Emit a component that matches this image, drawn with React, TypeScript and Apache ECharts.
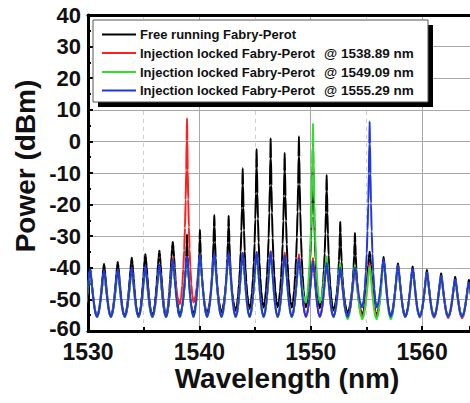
import React, { useEffect, useRef } from "react";
import * as echarts from "echarts";

// Fabry-Perot longitudinal mode wavelengths (nm)
const MODES = [
  1530.18, 1531.44, 1532.67, 1533.93, 1535.15, 1536.41, 1537.61, 1538.89, 1540.05, 1541.34,
  1542.63, 1543.89, 1545.14, 1546.4, 1547.66, 1548.94, 1550.2, 1551.43, 1552.65, 1553.97,
  1555.29, 1556.54, 1557.83, 1559.15, 1560.43, 1561.71, 1562.97, 1564.2,
];

// Peak powers (dBm) for each mode, per trace
const FREE_PEAKS = [
  -40.0, -38.8, -38.2, -36.8, -35.7, -34.6, -31.8, -29.5, -28.0, -23.3, -23.5, -8.5, -2.4, 1.0,
  -3.6, 1.6, -1.0, -10.6, -25.4, -29.0, -34.9, -36.6, -38.6, -39.6, -40.7, -41.8, -42.9, -43.9,
];
const RED_PEAKS = [
  -41.2, -41.5, -41.2, -40.7, -40.2, -39.7, -37.0, 7.3, -36.5, -36.2, -35.8, -35.5, -35.2, -34.8,
  -35.2, -35.8, -37.0, -39.2, -40.7, -41.0, -38.8, -38.0, -39.6, -40.6, -41.7, -42.8, -43.9, -44.9,
];
const GREEN_PEAKS = [
  -41.2, -41.5, -41.2, -40.7, -40.2, -39.7, -38.0, -37.2, -36.5, -36.2, -36.0, -35.8, -35.8, -36.0,
  -36.8, -37.8, 5.7, -36.5, -38.6, -39.2, -39.6, -38.0, -39.6, -40.6, -41.7, -42.8, -43.9, -44.9,
];
const BLUE_PEAKS = [
  -40.5, -40.8, -40.5, -40.0, -39.5, -39.0, -37.5, -36.5, -35.8, -35.5, -35.3, -35.2, -35.0, -35.0,
  -36.0, -37.0, -38.0, -38.5, -40.0, -40.0, 6.3, -37.4, -39.4, -40.4, -41.5, -42.6, -43.7, -44.7,
];

// Valley powers (dBm) between modes (one before the first mode, one after each mode)
const FREE_VALLEYS = [
  -55.0, -55.3, -55.3, -55.2, -55.2, -55.1, -55.0, -54.8, -54.5, -54.3, -54.0, -53.6, -53.0, -52.6,
  -52.5, -52.6, -52.5, -52.8, -53.5, -54.3, -54.8, -55.0, -55.2, -55.3, -55.3, -55.4, -55.4, -55.5,
  -55.5,
];
const RED_VALLEYS = [
  -55.6, -55.6, -55.6, -55.6, -55.6, -55.6, -55.6, -51.5, -51.0, -55.4, -55.5, -55.5, -55.5, -55.5,
  -55.5, -55.5, -55.5, -55.5, -55.5, -55.5, -55.5, -55.5, -55.6, -55.6, -55.7, -55.8, -55.9, -56.0,
  -56.0,
];
const GREEN_VALLEYS = [
  -55.6, -55.6, -55.6, -55.6, -55.6, -55.6, -55.6, -55.6, -55.6, -55.6, -55.6, -55.6, -55.6, -55.6,
  -55.6, -55.6, -51.0, -51.0, -55.6, -56.3, -56.3, -56.3, -56.3, -55.6, -55.6, -55.6, -55.6, -55.6,
  -55.6,
];
const BLUE_VALLEYS = [
  -55.5, -55.5, -55.5, -55.5, -55.5, -55.5, -55.5, -55.5, -55.5, -55.5, -55.5, -55.5, -55.5, -55.5,
  -55.5, -55.5, -55.5, -55.5, -55.5, -55.5, -52.5, -52.5, -55.5, -55.5, -55.5, -55.5, -55.5, -55.5,
  -55.5,
];

// Line-shape profile of one mode:
// position as fraction of half mode spacing, height as fraction of (peak - valley)
const PROFILE_POS = [0, 0.05, 0.11, 0.19, 0.29, 0.4, 0.52, 0.67, 0.83, 1];
const PROFILE_SMALL = [1, 0.97, 0.9, 0.79, 0.64, 0.48, 0.32, 0.16, 0.05, 0];
const PROFILE_TALL = [1, 0.88, 0.72, 0.56, 0.41, 0.29, 0.19, 0.1, 0.035, 0];

const X_TICKS = [1530, 1540, 1550, 1560];
const Y_MIN = -60;

const LEGEND = [
  { name: "Free running Fabry-Perot", at: "", color: "#000000" },
  { name: "Injection locked Fabry-Perot", at: "@ 1538.89 nm", color: "#ff1f1f" },
  { name: "Injection locked Fabry-Perot", at: "@ 1549.09 nm", color: "#2fe02a" },
  { name: "Injection locked Fabry-Perot", at: "@ 1555.29 nm", color: "#1f36e8" },
];
const TRACES = [
  { peaks: FREE_PEAKS, valleys: FREE_VALLEYS },
  { peaks: RED_PEAKS, valleys: RED_VALLEYS },
  { peaks: GREEN_PEAKS, valleys: GREEN_VALLEYS },
  { peaks: BLUE_PEAKS, valleys: BLUE_VALLEYS },
];

function buildTrace(peaks: number[], valleys: number[]): number[][] {
  const pts: number[][] = [];
  const n = MODES.length;
  for (let k = 0; k < n; k++) {
    const lam = MODES[k];
    const xl = k === 0 ? lam - 0.63 : (MODES[k - 1] + lam) / 2;
    const xr = k === n - 1 ? lam + 0.63 : (lam + MODES[k + 1]) / 2;
    const P = peaks[k];
    const VL = valleys[k];
    const VR = valleys[k + 1];
    const prof = P - Math.min(VL, VR) > 25 ? PROFILE_TALL : PROFILE_SMALL;
    if (k === 0) pts.push([xl, VL]);
    for (let i = PROFILE_POS.length - 2; i >= 0; i--) {
      pts.push([lam - PROFILE_POS[i] * (lam - xl), VL + prof[i] * (P - VL)]);
    }
    for (let i = 1; i < PROFILE_POS.length; i++) {
      pts.push([lam + PROFILE_POS[i] * (xr - lam), VR + prof[i] * (P - VR)]);
    }
  }
  return pts;
}

const FONT = '"Liberation Sans", Arial, Helvetica, sans-serif';
const GRID_GRAY = "#a8a8a8";

export default function App() {
  const ref = useRef<HTMLDivElement>(null);
  useEffect(() => {
    const chart = echarts.init(ref.current!, null, { renderer: "svg" });
    const legendRows = [34.5, 53, 72, 90.5];
    const graphic: any[] = [
      { type: "rect", z: 100, shape: { x: 98, y: 25, width: 335, height: 82 }, style: { fill: "#000" } },
      {
        type: "rect",
        z: 101,
        shape: { x: 93, y: 20, width: 335, height: 82 },
        style: { fill: "#fff", stroke: "#555", lineWidth: 1 },
      },
    ];
    LEGEND.forEach((it, i) => {
      const y = legendRows[i];
      graphic.push({
        type: "line",
        z: 102,
        shape: { x1: 102, y1: y, x2: 136, y2: y },
        style: { stroke: it.color, lineWidth: 2 },
      });
      graphic.push({
        type: "text",
        z: 102,
        x: 140,
        y,
        style: {
          text: it.name,
          fontFamily: FONT,
          fontWeight: "bold",
          fontSize: 13,
          fill: "#111",
          align: "left",
          verticalAlign: "middle",
        },
      });
      if (it.at) {
        graphic.push({
          type: "text",
          z: 102,
          x: 324,
          y,
          style: {
            text: it.at,
            fontFamily: FONT,
            fontWeight: "bold",
            fontSize: 13.5,
            fill: "#111",
            align: "left",
            verticalAlign: "middle",
          },
        });
      }
    });
    graphic.push({
      type: "text",
      z: 102,
      x: 25,
      y: 166,
      rotation: Math.PI / 2,
      style: {
        text: "Power (dBm)",
        fontFamily: FONT,
        fontWeight: "bold",
        fontSize: 28,
        fill: "#111",
        align: "center",
        verticalAlign: "middle",
      },
    });
    graphic.push({
      type: "text",
      z: 102,
      x: 287,
      y: 378,
      style: {
        text: "Wavelength (nm)",
        fontFamily: FONT,
        fontWeight: "bold",
        fontSize: 28,
        fill: "#111",
        align: "center",
        verticalAlign: "middle",
      },
    });

    const labelStyle = { fontFamily: FONT, fontWeight: "bold", fontSize: 22, lineHeight: 17, color: "#111" };

    const option: any = {
      animation: false,
      backgroundColor: "#fff",
      grid: { left: 88, top: 15, right: 0, bottom: 72 },
      xAxis: [
        {
          type: "value",
          min: X_TICKS[0],
          max: 1564.3,
          interval: 10,
          axisLine: { show: true, onZero: false, lineStyle: { color: "#000", width: 3 } },
          axisTick: { show: true, inside: true, length: 5, lineStyle: { color: "#000", width: 2 } },
          minorTick: { show: true, splitNumber: 2, length: 4, lineStyle: { color: "#000", width: 2 } },
          axisLabel: {
            fontFamily: FONT,
            fontWeight: "bold",
            fontSize: 23,
            lineHeight: 18,
            color: "#111",
            margin: 12,
            formatter: (v: number) => String(v),
          },
          splitLine: { show: true, lineStyle: { color: GRID_GRAY, width: 1 } },
          minorSplitLine: { show: true, lineStyle: { color: "#cfcfcf", width: 1, type: [4, 4] } },
        },
        {
          type: "value",
          position: "top",
          min: X_TICKS[0],
          max: 1564.3,
          interval: 10,
          axisLine: { show: true, onZero: false, lineStyle: { color: "#000", width: 3 } },
          axisTick: { show: false },
          axisLabel: { show: false },
          splitLine: { show: false },
        },
      ],
      yAxis: {
        type: "value",
        min: Y_MIN,
        max: 40,
        interval: 10,
        axisLine: { show: true, onZero: false, lineStyle: { color: "#000", width: 3 } },
        axisTick: { show: true, inside: true, length: 5, lineStyle: { color: "#000", width: 2 } },
        minorTick: { show: true, splitNumber: 2, length: 3, lineStyle: { color: "#000", width: 2 } },
        axisLabel: {
          ...labelStyle,
          margin: 7,
          formatter: (v: number) => (v === Y_MIN ? "{low|" + v + "}" : String(v)),
          rich: { low: { ...labelStyle, padding: [0, 0, 6, 0] } },
        },
        splitLine: { show: true, lineStyle: { color: GRID_GRAY, width: 1 } },
      },
      series: TRACES.map((t, i) => ({
        type: "line",
        name: LEGEND[i].at ? LEGEND[i].name + " " + LEGEND[i].at : LEGEND[i].name,
        data: buildTrace(t.peaks, t.valleys),
        showSymbol: false,
        symbol: "none",
        smooth: 0.25,
        smoothMonotone: "x",
        clip: true,
        lineStyle: { color: LEGEND[i].color, width: 2 },
        itemStyle: { color: LEGEND[i].color },
        z: 2 + i,
      })),
      graphic,
    };
    chart.setOption(option);
    return () => chart.dispose();
  }, []);
  return (
    <div
      ref={ref}
      style={{ position: "fixed", left: 0, top: 0, width: 470, height: 403, background: "#fff" }}
    />
  );
}
